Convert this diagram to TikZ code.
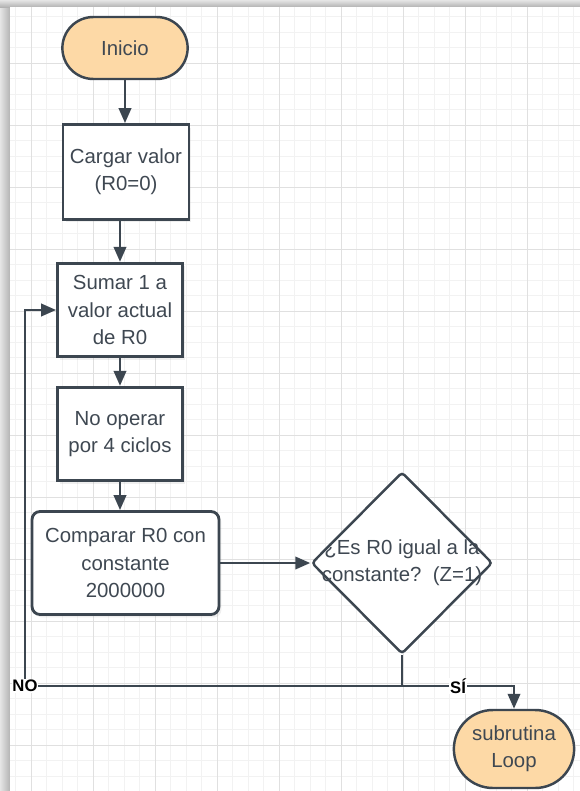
\documentclass[tikz,border=0pt]{standalone}
\usepackage{fontspec}
\setmainfont{Liberation Sans}
\usepackage{tikz}
\usetikzlibrary{shapes.geometric, shapes.misc, arrows.meta, positioning, calc, shadows}
\definecolor{FlowLine}{HTML}{3C4650}
\definecolor{FlowText}{HTML}{3F4852}
\definecolor{FlowOrange}{HTML}{FDD9A6}
\definecolor{GridMinor}{HTML}{F2F2F2}
\definecolor{GridMajor}{HTML}{E0E0E0}
\newcommand{\flowfont}{\fontsize{11.6}{15.4}\selectfont}
\tikzset{
    % Node styles
    termbox/.style={
        rounded rectangle,
        draw=FlowLine,
        fill=FlowOrange,
        line width=1.4pt,
        minimum width=2.74cm,
        minimum height=1.24cm,
        text=FlowText,
        align=center,
        font=\flowfont
    },
    processbox/.style={
        rectangle,
        draw=FlowLine,
        fill=white,
        line width=1.6pt,
        minimum width=2.5cm,
        minimum height=1.87cm,
        text=FlowText,
        align=center,
        font=\flowfont,
        drop shadow={opacity=0.12, shadow xshift=0.05cm, shadow yshift=-0.06cm}
    },
    roundbox/.style={
        processbox,
        rounded corners=0.16cm
    },
    decisionbox/.style={
        diamond,
        draw=FlowLine,
        fill=white,
        line width=1.4pt,
        rounded corners=2pt,
        inner sep=0pt,
        minimum width=3.62cm,
        minimum height=3.64cm
    },
    flowtext/.style={
        text=FlowText,
        align=center,
        font=\flowfont
    },
    branchlabel/.style={
        fill=white,
        inner sep=0.5pt,
        text=black,
        font=\bfseries\fontsize{9.5}{11}\selectfont
    },
    % Arrow styles
    flowline/.style={
        line width=1.5pt,
        FlowLine
    },
    flowarrow/.style={
        flowline,
        -{Triangle[length=8.5pt,width=7pt]}
    },
    % Grid styles
    gridminor/.style={draw=GridMinor, line width=0.5pt},
    gridmajor/.style={draw=GridMajor, line width=0.5pt}
}
\begin{document}
\begin{tikzpicture}[x=0.02cm, y=-0.02cm]
    \useasboundingbox (0,0) rectangle (580,791);
    % Page and grid
    \shade[left color=gray!20, right color=gray!60] (0,0) rectangle (10,791);
    \shade[top color=gray!20, bottom color=gray!60] (0,0) rectangle (580,7);
    \fill[white] (10,7) rectangle (580,791);
    \foreach \k in {1,...,37} \draw[gridminor] (15.5*\k,7) -- (15.5*\k,791);
    \foreach \k in {1,...,50} \draw[gridminor] (10,1+15.5*\k) -- (580,1+15.5*\k);
    \foreach \k in {0,...,8} \draw[gridmajor] (31+62*\k,7) -- (31+62*\k,791);
    \foreach \k in {1,...,12} \draw[gridmajor] (10,1+62*\k) -- (580,1+62*\k);

    % Flow nodes
    \node[termbox] (inicio) at (125,48) {Inicio};
    \node[processbox, minimum width=2.52cm, minimum height=1.9cm] (cargar) at (126,172) {Cargar valor\\(R0=0)};
    \node[processbox] (sumar) at (120,310) {Sumar 1 a\\valor actual\\de R0};
    \node[processbox] (nooperar) at (120,434) {No operar\\por 4 ciclos};
    \node[roundbox, minimum width=3.74cm, minimum height=2.06cm] (comparar) at (125.5,563) {Comparar R0 con\\constante\\2000000};
    \node[decisionbox] (decision) at (402,563) {};
    \node[flowtext] (pregunta) at (decision) {¿Es R0 igual a la\\constante?\ \ (Z=1)};
    \node[termbox, minimum width=2.64cm, minimum height=1.56cm] (subrutina) at (514,749) {subrutina\\Loop};

    % Connectors
    \coordinate (split) at (402,686);
    \coordinate (noturn) at (25,686);
    \draw[flowarrow] (inicio.south) -- (inicio.south |- cargar.north);
    \draw[flowarrow] (sumar.north |- cargar.south) -- (sumar.north);
    \draw[flowarrow] (sumar.south) -- (nooperar.north);
    \draw[flowarrow] (nooperar.south) -- (nooperar.south |- comparar.north);
    \draw[flowarrow] (comparar.east) -- (decision.west);
    \draw[flowline] (decision.south) -- (split);
    \draw[flowarrow] (split) -- (noturn) -- (noturn |- sumar) -- (sumar.west);
    \node[branchlabel] (nolabel) at (noturn) {NO};
    \draw[flowarrow] (split) -- node[branchlabel] (silabel) {SÍ} (split -| subrutina) -- (subrutina.north);
\end{tikzpicture}
\end{document}
